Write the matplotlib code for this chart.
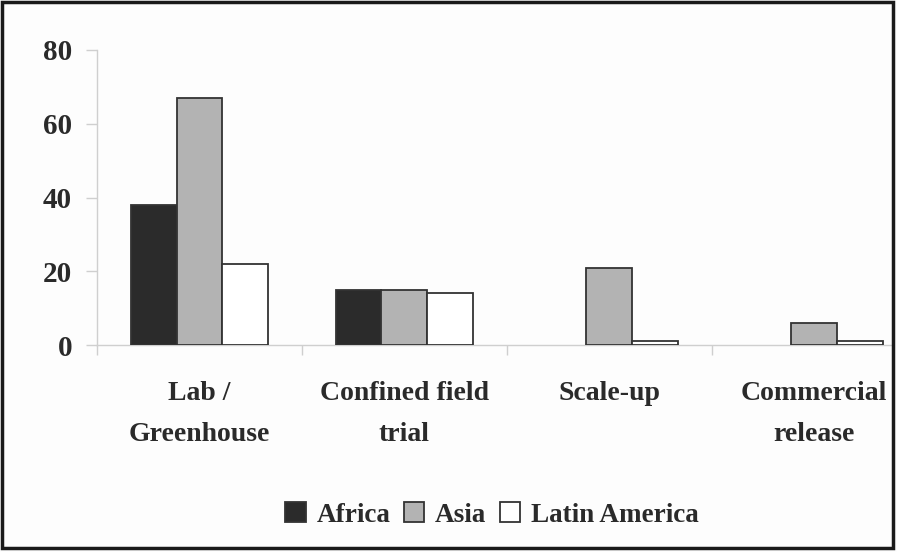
import matplotlib
matplotlib.use("Agg")
import matplotlib.pyplot as plt
from matplotlib.patches import Rectangle
import numpy as np

# Data
categories = ["Lab /\nGreenhouse", "Confined field\ntrial", "Scale-up", "Commercial\nrelease"]
regions = ["Africa", "Asia", "Latin America"]
africa = [38, 15, 0, 0]
asia = [67, 15, 21, 6]
latin_america = [22, 14, 1, 1]
y_ticks = [0, 20, 40, 60, 80]

series = [africa, asia, latin_america]
fills = ["#2b2b2b", "#b3b3b3", "#ffffff"]

plt.rcParams["font.family"] = ["Liberation Serif", "DejaVu Serif"]
plt.rcParams["font.weight"] = "bold"

fig = plt.figure(figsize=(8.97, 5.52), dpi=100)
fig.patch.set_facecolor("#fdfdfd")

W, H = 897, 552
ax = fig.add_axes([97 / W, (H - 345) / H, 795 / W, 295 / H])
ax.set_facecolor("#fdfdfd")

x = np.arange(len(categories))
bw = 0.224
offsets = [-bw, 0, bw]
for vals, fc, off, name in zip(series, fills, offsets, regions):
    bars = ax.bar(x + off, vals, width=bw, color=fc, edgecolor="#333333",
                  linewidth=1.3, label=name, zorder=3)
    # empty categories leave no outline
    for b, v in zip(bars, vals):
        if v == 0:
            b.set_edgecolor("none")

ax.set_xlim(-0.5, 3.38)
ax.set_ylim(0, 80)
ax.set_yticks(y_ticks)
ax.set_yticklabels([str(v) for v in y_ticks], fontsize=21, fontweight="bold", color="#2a2a2a")

# category labels at centres, tick marks at group boundaries
ax.set_xticks(x)
ax.set_xticklabels(categories, fontsize=20, fontweight="bold", color="#2a2a2a",
                   linespacing=1.85)
ax.tick_params(axis="x", which="major", length=0, pad=26)
ax.set_xticks(np.arange(-0.5, 3.5, 1.0), minor=True)
ax.tick_params(axis="x", which="minor", length=7, color="#cfcfcf", width=1)
ax.tick_params(axis="y", length=8, color="#cfcfcf", width=1, pad=10)

for s in ["top", "right"]:
    ax.spines[s].set_visible(False)
for s in ["left", "bottom"]:
    ax.spines[s].set_color("#cfcfcf")
    ax.spines[s].set_linewidth(1)

leg = fig.legend(loc="center", bbox_to_anchor=(492 / W, (H - 515) / H), ncol=3,
                 frameon=False, handlelength=0.75, handleheight=0.75,
                 handletextpad=0.4, columnspacing=0.5,
                 prop={"family": ["Liberation Serif"], "weight": "bold", "size": 19.5})
for t in leg.get_texts():
    t.set_color("#2a2a2a")

# outer frame
fig.patches.append(Rectangle((2 / W, 4 / H), 891 / W, 546 / H, transform=fig.transFigure,
                             fill=False, edgecolor="#1a1a1a", linewidth=2.5))

fig.savefig("out.png", dpi=100, facecolor=fig.get_facecolor())
